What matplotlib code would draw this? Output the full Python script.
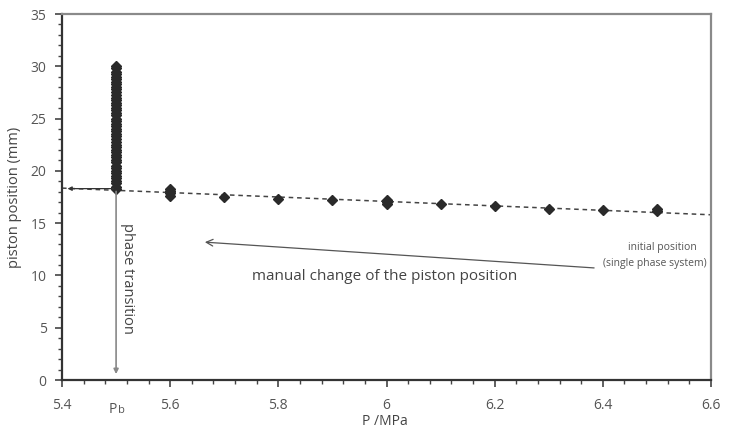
import numpy as np
import matplotlib
matplotlib.use('Agg')
import matplotlib.pyplot as plt
from matplotlib.ticker import MultipleLocator

plt.rcParams['font.family'] = ['Open Sans', 'DejaVu Sans']

# measured piston positions at each pressure (single phase region)
pressure = [5.6, 5.6, 5.6, 5.6, 5.7, 5.8, 5.9, 6.0, 6.0, 6.0, 6.1, 6.2, 6.3, 6.4, 6.5, 6.5]
position = [17.6, 17.9, 18.1, 18.3, 17.5, 17.3, 17.2, 16.8, 17.0, 17.2, 16.8, 16.6, 16.4, 16.3, 16.2, 16.4]

# points recorded at the bubble pressure during the phase transition
p_bubble = 5.5
column_pos = [18.3, 18.5, 18.8, 19.0, 19.3, 19.5, 19.8, 20.0, 20.3, 20.5, 20.8, 21.0,
              21.3, 21.5, 21.8, 22.0, 22.3, 22.5, 22.8, 23.0, 23.3, 23.5, 23.8, 24.0,
              24.3, 24.5, 24.8, 25.0, 25.3, 25.5, 25.8, 26.0, 26.3, 26.5, 26.8, 27.0,
              27.3, 27.5, 27.8, 28.0, 28.3, 28.5, 28.8, 29.0, 29.3, 29.5, 29.8, 30.0]

# trend line of the single phase system
trend_x = [5.4, 6.6]
trend_y = [18.35, 15.8]

xticks = [5.4, 5.6, 5.8, 6.0, 6.2, 6.4, 6.6]
xticklabels = ['5.4', '5.6', '5.8', '6', '6.2', '6.4', '6.6']
yticks = [0, 5, 10, 15, 20, 25, 30, 35]

fig = plt.figure(figsize=(7.31, 4.29), dpi=100)
ax = fig.add_axes([62 / 731, 49 / 429, 649 / 731, 366 / 429])

ax.plot(trend_x, trend_y, linestyle=(0, (3, 2.5)), color='#444444', lw=1.1, zorder=2)
ax.plot([p_bubble] * len(column_pos), column_pos, 'D', color='#2a2a2a', ms=5, zorder=3)
ax.plot(pressure, position, 'D', color='#2a2a2a', ms=5, zorder=3)

# horizontal marker line towards the y axis
ax.annotate('', xy=(5.405, trend_y[0] - 0.05), xytext=(p_bubble, trend_y[0] - 0.05),
            arrowprops=dict(arrowstyle='-|>', color='#333333', lw=0.9, mutation_scale=6))
# phase transition arrow down to Pb
ax.annotate('', xy=(p_bubble, 0.3), xytext=(p_bubble, column_pos[0]),
            arrowprops=dict(arrowstyle='-|>', color='#888888', lw=1.2, mutation_scale=7))
ax.text(5.522, 9.75, 'phase transition', rotation=-90, ha='center', va='center',
        fontsize=10.5, color='#444444')

# manual change arrow
ax.annotate('', xy=(5.659, 13.2), xytext=(6.389, 10.7),
            arrowprops=dict(arrowstyle='->', color='#555555', lw=0.9, mutation_scale=12))
ax.text(5.997, 9.85, 'manual change of the piston position', ha='center', va='center',
        fontsize=11, color='#444444')
ax.text(6.511, 12.7, 'initial position', ha='center', va='center', fontsize=7.5, color='#555555')
ax.text(6.497, 11.1, '(single phase system)', ha='center', va='center', fontsize=7.5, color='#555555')

ax.set_xlim(5.4, 6.6)
ax.set_ylim(0, 35)
ax.set_xticks(xticks)
ax.set_xticklabels(xticklabels)
ax.set_yticks(yticks)
ax.xaxis.set_minor_locator(MultipleLocator(0.04))
ax.yaxis.set_minor_locator(MultipleLocator(1))
ax.tick_params(axis='both', which='major', direction='out', length=5, width=1.2,
               colors='#444444', labelcolor='#555555', labelsize=10)
ax.tick_params(axis='x', which='major', pad=8)
ax.tick_params(axis='y', which='major', pad=6)
ax.tick_params(axis='both', which='minor', direction='out', length=3, width=1.0, colors='#444444')

for side in ['left', 'bottom']:
    ax.spines[side].set_color('#333333')
    ax.spines[side].set_linewidth(1.6)
for side in ['top', 'right']:
    ax.spines[side].set_color('#8a8a8a')
    ax.spines[side].set_linewidth(1.6)

# Pb label below the axis
ax.text(p_bubble - 0.006, -2.1, 'P', ha='center', va='top', fontsize=10, color='#555555')
ax.text(p_bubble + 0.004, -2.4, 'b', ha='left', va='top', fontsize=8, color='#555555')

ax.set_ylabel('piston position (mm)', fontsize=10.5, color='#444444', labelpad=6)
fig.text(385 / 731, 0.0, 'P /MPa', ha='center', va='bottom', fontsize=10, color='#444444')

fig.savefig('out.png', dpi=100)
